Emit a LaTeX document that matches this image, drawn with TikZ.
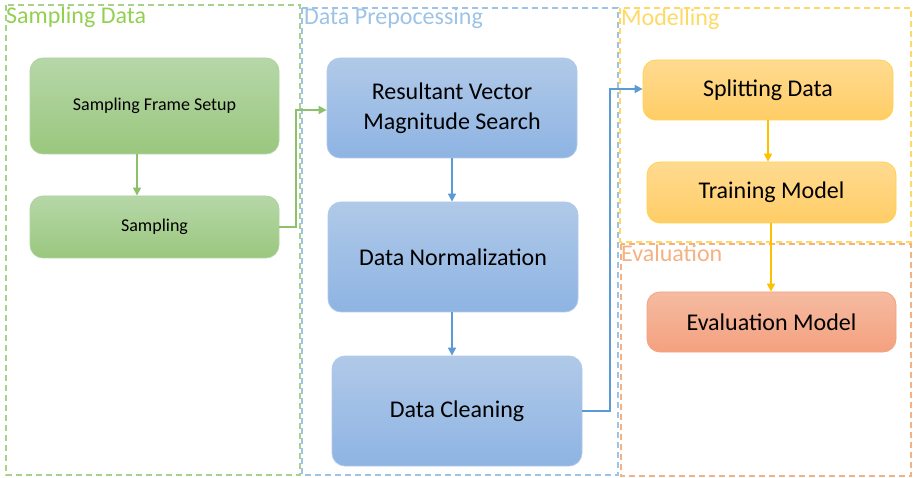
\documentclass[tikz,border=0pt]{standalone}
\usepackage{fontspec}
\setmainfont{Carlito}
\usetikzlibrary{arrows.meta}

% palette
\definecolor{grnTop}{HTML}{B6D7A8}
\definecolor{grnBot}{HTML}{9AC77E}
\definecolor{grnLine}{HTML}{8CC16A}
\definecolor{grnFrame}{HTML}{A9D18E}
\definecolor{grnTitle}{HTML}{92D050}
\definecolor{bluTop}{HTML}{B0C9E8}
\definecolor{bluBot}{HTML}{8EB4E3}
\definecolor{bluLine}{HTML}{5B9BD5}
\definecolor{bluFrame}{HTML}{9DC3E6}
\definecolor{yelTop}{HTML}{FFDA90}
\definecolor{yelBot}{HTML}{FFCD66}
\definecolor{yelLine}{HTML}{FFC000}
\definecolor{yelFrame}{HTML}{FFD966}
\definecolor{orgTop}{HTML}{F5BBA1}
\definecolor{orgBot}{HTML}{F4A17F}
\definecolor{orgLine}{HTML}{F4B183}

\begin{document}
\begin{tikzpicture}[x=1pt,y=-1pt,
  frame/.style={dashed, dash pattern=on 6pt off 4pt, line width=1.3pt},
  title/.style={anchor=base west, inner sep=0pt, font=\fontsize{24}{27}\selectfont},
  stage/.style={rounded corners=13pt, line width=0.8pt, inner sep=2pt, align=center},
  small/.style={font=\fontsize{18}{22}\selectfont},
  big/.style={font=\fontsize{24}{30}\selectfont},
  grn/.style={stage, draw=grnTop!80!grnBot, top color=grnTop, bottom color=grnBot},
  blu/.style={stage, draw=bluTop, top color=bluTop, bottom color=bluBot},
  yel/.style={stage, draw=yelLine!70!white, top color=yelTop, bottom color=yelBot},
  org/.style={stage, draw=orgBot, top color=orgTop, bottom color=orgBot},
  flow/.style={line width=1.7pt, -{Triangle[length=8pt,width=8pt]}}
]
\useasboundingbox (0,0) rectangle (913,478);

% group frames
\draw[frame, draw=grnFrame] (6,5) rectangle (300,475);
\draw[frame, draw=bluFrame] (302,8) rectangle (618,475);
\draw[frame, draw=yelFrame] (620,8) rectangle (911,242);
\draw[frame, draw=orgLine] (621,244) rectangle (911,476);

% group titles
\node[title, text=grnTitle] (tSamp) at (6,24) {Sampling Data};
\node[title, text=bluFrame] (tPrep) at (304,25) {Data Prepocessing};
\node[title, text=yelFrame] (tMod) at (621,26) {Modelling};
\node[title, text=orgLine] (tEval) at (621,262) {Evaluation};

% stages
\node[grn, small, minimum width=249pt, minimum height=96pt] (sfs) at (154.5,106) {\raisebox{-2pt}{Sampling Frame Setup}};
\node[grn, small, minimum width=249pt, minimum height=62pt] (samp) at (154.5,227) {\raisebox{-2pt}{Sampling}};
\node[blu, big, minimum width=250pt, minimum height=100pt] (rvm) at (452,108) {\raisebox{-3pt}{Resultant Vector}\\\raisebox{-3pt}{Magnitude Search}};
\node[blu, big, minimum width=250pt, minimum height=110pt] (norm) at (453,257) {Data Normalization};
\node[blu, big, minimum width=250pt, minimum height=110pt] (clean) at (457,411) {Data Cleaning};
\node[yel, big, minimum width=250pt, minimum height=60pt] (split) at (768,90) {Splitting Data};
\node[yel, big, minimum width=249pt, minimum height=61pt] (train) at (771.5,192.5) {Training Model};
\node[org, big, minimum width=249pt, minimum height=60pt] (eval) at (771.5,322) {Evaluation Model};

% connectors
\draw[flow, draw=grnLine] (sfs.south -| 137,0) -- (samp.north -| 137,0);
\draw[flow, draw=grnLine] (samp.east) -| (296,110) -- (rvm.west |- 0,110);
\draw[flow, draw=bluLine] (rvm.south -| 452,0) -- (norm.north -| 452,0);
\draw[flow, draw=bluLine] (norm.south -| 452,0) -- (clean.north -| 452,0);
\draw[flow, draw=bluLine] (clean.east) -| (610,89) -- (split.west |- 0,89);
\draw[flow, draw=yelLine] (split.south -| 768,0) -- (train.north -| 768,0);
\draw[flow, draw=yelLine] (train.south -| 771,0) -- (eval.north -| 771,0);
\end{tikzpicture}
\end{document}
